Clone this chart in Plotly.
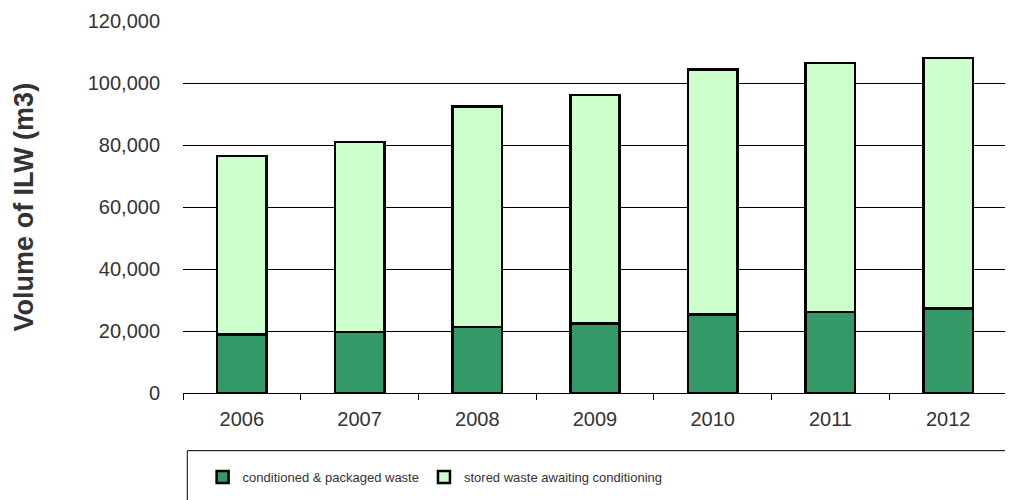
import plotly.graph_objects as go

years = ["2006", "2007", "2008", "2009", "2010", "2011", "2012"]
conditioned = [18900, 19700, 21300, 22400, 25300, 26200, 27300]
stored = [57600, 61200, 71200, 73800, 79000, 80200, 80700]
y_ticks = [0, 20000, 40000, 60000, 80000, 100000, 120000]
y_tick_labels = ["0", "20,000", "40,000", "60,000", "80,000", "100,000", "120,000"]

FONT = "Liberation Sans, Arial, sans-serif"
TXT = "#333333"

fig = go.Figure()
fig.add_trace(go.Bar(
    x=years, y=conditioned, name="conditioned & packaged waste",
    marker=dict(color="#339966", line=dict(color="black", width=2.5)),
))
fig.add_trace(go.Bar(
    x=years, y=stored, name="stored waste awaiting conditioning",
    marker=dict(color="#CCFFCC", line=dict(color="black", width=2.5)),
))

fig.update_layout(
    barmode="stack",
    bargap=0.58,
    width=1005, height=492,
    margin=dict(l=175, r=6, t=12.5, b=107, autoexpand=False),
    paper_bgcolor="white", plot_bgcolor="white",
    font=dict(family=FONT, size=20, color=TXT),
    showlegend=True,
    legend=dict(
        orientation="h", x=0.0238, xanchor="left", y=-0.226, yanchor="middle",
        font=dict(family=FONT, size=13, color=TXT),
        bgcolor="rgba(0,0,0,0)", borderwidth=0,
        itemwidth=30,
        traceorder="normal",
    ),
)

fig.update_yaxes(
    range=[0, 120000], tickvals=y_ticks, ticktext=y_tick_labels,
    showgrid=True, gridcolor="black", gridwidth=1,
    zeroline=False, showline=False, ticks="", ticklabelstandoff=22,
    tickfont=dict(family=FONT, size=20, color=TXT),
)
fig.update_xaxes(
    showline=True, linecolor="black", linewidth=1,
    ticks="outside", tickson="boundaries", ticklen=6, tickcolor="black", tickwidth=1,
    ticklabelstandoff=8,
    tickfont=dict(family=FONT, size=20, color=TXT),
)

fig.add_annotation(
    text="<b>Volume of ILW (m3)</b>", textangle=-90,
    xref="paper", yref="paper", x=-0.1925, y=0.5,
    xanchor="center", yanchor="middle", showarrow=False,
    font=dict(family=FONT, size=27, color=TXT),
)

fig.add_shape(
    type="rect", xref="paper", yref="paper",
    x0=0.0052, x1=1.03, y0=-0.155, y1=-0.35,
    line=dict(color="black", width=1), fillcolor="rgba(0,0,0,0)",
)

fig.write_html("out.html")
